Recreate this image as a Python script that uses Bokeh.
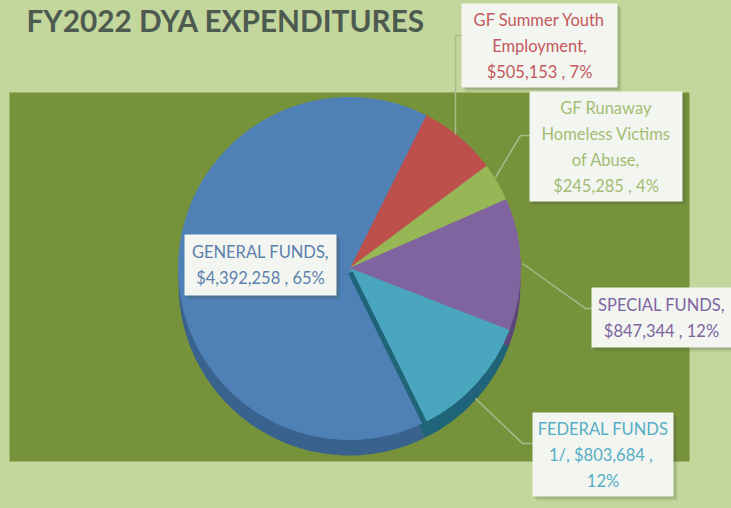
import numpy as np
from bokeh.plotting import figure
from bokeh.embed import file_html
from bokeh.resources import INLINE
from bokeh.core.properties import value

categories = ["GF Summer Youth Employment", "GF Runaway Homeless Victims of Abuse",
              "SPECIAL FUNDS", "FEDERAL FUNDS 1/", "GENERAL FUNDS"]
amounts = [505153, 245285, 847344, 803684, 4392258]
colors = ["#bd4f4c", "#97b656", "#80649f", "#4aa6bf", "#4f80b6"]
side_colors = ["#8c3a38", "#6f8a3c", "#5c4778", "#1f6478", "#39628f"]
text_colors = ["#c4585c", "#a3bd74", "#7d64a0", "#55aec6", "#5b80ae"]
label_lines = [
    ["GF Summer Youth", "Employment,", "$505,153 , 7%"],
    ["GF Runaway", "Homeless Victims", "of Abuse,", "$245,285 , 4%"],
    ["SPECIAL FUNDS,", "$847,344 , 12%"],
    ["FEDERAL FUNDS", "1/,  $803,684 ,", "12%"],
    ["GENERAL FUNDS,", "$4,392,258 , 65%"],
]
boxes = [(461, 3, 617, 87), (529, 91, 682, 201), (591, 287, 731, 347),
         (532, 412, 673, 496), (184, 234, 336, 295)]
leaders = [
    [(455, 134), (455, 35), (461, 35)],
    [(495, 177), (520, 135), (529, 135)],
    [(522, 263), (585, 308), (591, 308)],
    [(475, 398), (522, 443), (532, 443)],
]
title = "FY2022 DYA EXPENDITURES"

W, H = 731, 508
CX, CY, R = 349, 268, 171
FIRST = np.radians(26.5)   # clockwise from north, start of the first slice
DEPTH = 16


def Y(py):
    return H - py


p = figure(width=W, height=H, x_range=(0, W), y_range=(0, H), output_backend="svg",
           toolbar_location=None, min_border=0, outline_line_color=None,
           background_fill_color="#c3d69b", border_fill_color="#c3d69b")
p.axis.visible = False
p.grid.visible = False

# plot area panel
p.quad(left=9, right=689, top=Y(92), bottom=Y(461), fill_color="#76933c", line_color=None)

# slice angles from the values
vals = np.array(amounts, dtype=float)
fr = vals / vals.sum()
edges = FIRST + np.concatenate([[0], np.cumsum(fr)]) * 2 * np.pi
starts = np.pi / 2 - edges[1:]
ends = np.pi / 2 - edges[:-1]

# extruded side
for s, e, c in zip(starts, ends, side_colors):
    p.wedge(x=CX, y=Y(CY + DEPTH), radius=R, start_angle=s, end_angle=e, fill_color=c, line_color=None)

# top faces
p.wedge(x=CX, y=Y(CY), radius=R, start_angle=starts, end_angle=ends, fill_color=colors,
        line_color=colors, line_width=1)

# side wall visible along the teal / blue boundary
a = edges[4]
p.line([CX + 1, CX + R * np.sin(a) + 1], [Y(CY + 4), Y(CY - R * np.cos(a) + 4)],
       line_color=side_colors[3], line_width=5)

# leader lines
for pts in leaders:
    p.line([q[0] for q in pts], [Y(q[1]) for q in pts], line_color="#a8bd8c", line_width=1.5)

# label boxes with soft shadow
for (l, t, r, b), lines, tc in zip(boxes, label_lines, text_colors):
    for off, al in ((4, 0.12), (2, 0.18)):
        p.quad(left=l + off, right=r + off, top=Y(t + off), bottom=Y(b + off),
               fill_color="#3c4a30", fill_alpha=al, line_color=None)
    p.quad(left=l, right=r, top=Y(t), bottom=Y(b), fill_color="#f3f5f0", line_color=None)
    n = len(lines)
    step = 26
    mid = (t + b) / 2
    for i, ln in enumerate(lines):
        p.text(x=[(l + r) / 2], y=[Y(mid + (i - (n - 1) / 2) * step)], text=[ln],
               text_font=value("Lato"), text_font_size="16.5px", text_color=tc,
               text_align="center", text_baseline="middle")

p.text(x=[26], y=[Y(20)], text=[title], text_font=value("Lato"), text_font_size="29.8px",
       text_font_style="bold", text_color="#4d5a50", text_align="left", text_baseline="middle")

html = file_html(p, INLINE, title="FY2022 DYA Expenditures")
html = html.replace("<head>", "<head><style>html,body{margin:0;padding:0;overflow:hidden;background:#c3d69b}</style>", 1)
open("out.html", "w").write(html)
